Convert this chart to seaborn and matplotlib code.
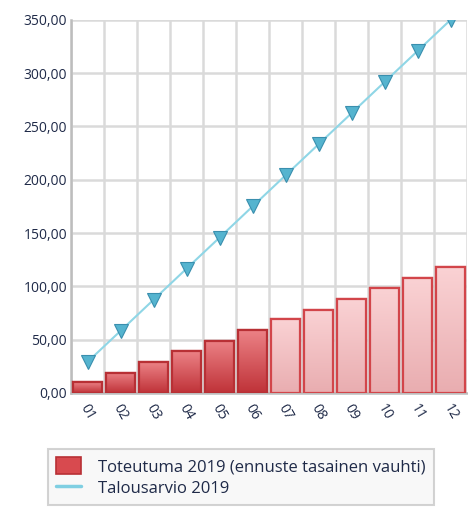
import matplotlib
matplotlib.use("Agg")
import matplotlib.pyplot as plt
import seaborn as sns
import pandas as pd
import numpy as np
from matplotlib.patches import Patch
from matplotlib.lines import Line2D
from matplotlib.colors import LinearSegmentedColormap

months = ["01", "02", "03", "04", "05", "06", "07", "08", "09", "10", "11", "12"]
toteutuma = [10, 19, 29, 39, 49, 59, 69, 78, 88, 98, 108, 118]
talousarvio = [29.2, 58.3, 87.5, 116.7, 145.8, 175.0, 204.2, 233.3, 262.5, 291.7, 320.8, 350.0]
yticks = [0, 50, 100, 150, 200, 250, 300, 350]
ytick_labels = ["0,00", "50,00", "100,00", "150,00", "200,00", "250,00", "300,00", "350,00"]
legend_labels = ["Toteutuma 2019 (ennuste tasainen vauhti)", "Talousarvio 2019"]

sns.set_style("white")
plt.rcParams["font.family"] = ["Open Sans", "DejaVu Sans"]

df = pd.DataFrame({"month": months, "toteutuma": toteutuma, "talousarvio": talousarvio})

fig = plt.figure(figsize=(4.68, 5.09), dpi=100)
ax = fig.add_axes([0.152, 0.228, 0.846, 0.733])

actual_face = "#d84a4f"
actual_edge = "#b83035"
fore_face = "#f5c3c5"
fore_edge = "#d2454a"
palette = [actual_face] * 6 + [fore_face] * 6
edges = [actual_edge] * 6 + [fore_edge] * 6
grad_actual = LinearSegmentedColormap.from_list("ga", ["#bf3238", "#ec8286"])
grad_fore = LinearSegmentedColormap.from_list("gf", ["#e9adb0", "#fad2d4"])

sns.barplot(data=df, x="month", y="toteutuma", hue="month", palette=palette,
            legend=False, width=0.88, ax=ax, saturation=1, zorder=3)
grad = np.linspace(0, 1, 256).reshape(-1, 1)
for i, (patch, ec) in enumerate(zip(list(ax.patches), edges)):
    patch.set_edgecolor(ec)
    patch.set_linewidth(1.6)
    x0, y0 = patch.get_x(), patch.get_y()
    w, h = patch.get_width(), patch.get_height()
    cmap = grad_actual if i < 6 else grad_fore
    im = ax.imshow(grad, cmap=cmap, origin="lower", aspect="auto",
                   extent=[x0, x0 + w, y0, y0 + h], zorder=3.1)
    im.set_clip_path(patch)
    outline = plt.Rectangle((x0, y0), w, h, fill=False, edgecolor=ec,
                            linewidth=1.6, zorder=3.2)
    ax.add_patch(outline)

sns.pointplot(data=df, x="month", y="talousarvio", color="#8fd6e6", markers="v",
              linestyles="-", ax=ax, zorder=4)
for ln in ax.lines:
    if ln.get_marker() == "v":
        ln.set_linewidth(1.5)
        ln.set_color("#8fd6e6")
        ln.set_markersize(10)
        ln.set_markerfacecolor("#55b4cf")
        ln.set_markeredgecolor("#3a8fae")
        ln.set_markeredgewidth(0.8)

ax.set_xlim(-0.5, 11.5)
ax.set_ylim(0, 350)
ax.set_yticks(yticks)
ax.set_yticklabels(ytick_labels, color="#1f2a48", fontsize=10)
ax.set_xticks(range(12))
ax.set_xticklabels(months, rotation=-60, color="#1f2a48", fontsize=10,
                   ha="center", va="top")
ax.set_xticks(np.arange(-0.5, 12, 1), minor=True)
ax.tick_params(axis="x", which="major", length=0, pad=6)
ax.tick_params(axis="x", which="minor", length=6, color="#bbbbbb", width=1.5)
ax.tick_params(axis="y", length=0, pad=3)
ax.grid(False)
ax.grid(True, axis="y", which="major", color="#dadada", linewidth=1.8, zorder=0)
ax.grid(True, axis="x", which="minor", color="#dadada", linewidth=1.8, zorder=0)
ax.set_axisbelow(True)
ax.set_xlabel("")
ax.set_ylabel("")
for s in ["top", "right"]:
    ax.spines[s].set_visible(False)
for s in ["left", "bottom"]:
    ax.spines[s].set_color("#bdbdbd")
    ax.spines[s].set_linewidth(1.8)

handles = [
    Patch(facecolor=actual_face, edgecolor=actual_edge, linewidth=1.2),
    Line2D([0], [0], color="#7fcfe2", linewidth=2.5),
]
leg = fig.legend(handles, legend_labels, loc="upper left",
                 bbox_to_anchor=(48 / 468, 1 - 449 / 509), frameon=True,
                 fancybox=False, fontsize=12, handlelength=1.5, handleheight=1.2,
                 borderpad=0.5, labelspacing=0.2, handletextpad=1.0,
                 borderaxespad=0)
leg.get_frame().set_edgecolor("#c8c8c8")
leg.get_frame().set_linewidth(1.5)
leg.get_frame().set_facecolor("#f7f7f7")
for t in leg.get_texts():
    t.set_color("#1f2a48")

fig.savefig("out.png", dpi=100)
